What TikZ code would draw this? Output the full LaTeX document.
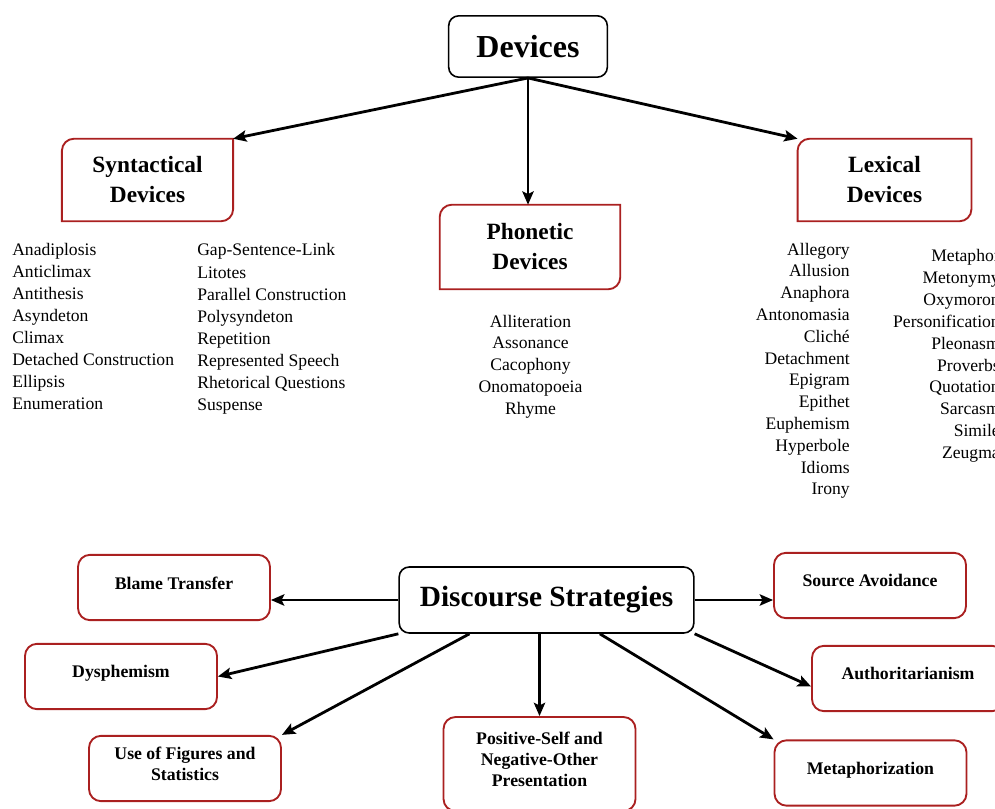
\documentclass[tikz,border=0pt]{standalone}
\usepackage{fontspec}
\setmainfont{Liberation Serif}
\usetikzlibrary{arrows.meta, positioning, calc}

\definecolor{devred}{RGB}{170,32,32}

% frame with two rounded corners (top left, bottom right)
\newcommand{\leafframe}[1]{%
  \draw[leafline] (#1.north east) -- ([xshift=9pt]#1.north west)
    arc[start angle=90, end angle=180, radius=9pt] -- (#1.south west)
    -- ([xshift=-9pt]#1.south east)
    arc[start angle=270, end angle=360, radius=9pt] -- cycle;}

\begin{document}
\begin{tikzpicture}[
    x=0.75pt, y=-0.75pt,
    root/.style={
        rectangle,
        draw=black,
        line width=1.2pt,
        rounded corners=7.5pt,
        minimum width=119pt,
        minimum height=46pt,
        inner sep=0pt,
        font=\fontsize{24}{28}\selectfont\bfseries
    },
    devbox/.style={
        rectangle,
        inner sep=0pt,
        align=center,
        font=\fontsize{17.5}{22.5}\selectfont\bfseries
    },
    leafline/.style={
        draw=devred,
        line width=1.4pt
    },
    item/.style={
        inner sep=0pt,
        font=\fontsize{13.2}{16}\selectfont
    },
    hub/.style={
        rectangle,
        draw=black,
        line width=1.2pt,
        rounded corners=7.5pt,
        minimum width=221pt,
        minimum height=49.5pt,
        inner sep=0pt,
        font=\fontsize{22}{26}\selectfont\bfseries
    },
    stratbox/.style={
        rectangle,
        draw=devred,
        line width=1.4pt,
        rounded corners=9pt,
        minimum width=144pt,
        minimum height=49pt,
        inner sep=0pt,
        text depth=7pt,
        align=center,
        font=\fontsize{13.3}{16}\selectfont\bfseries
    },
    arrow/.style={
        line width=2.1pt,
        -{Stealth[length=10pt, width=8.5pt, inset=2pt]}
    }
]
    \path[use as bounding box] (0,0) rectangle (995,809);
    \clip (0,0) rectangle (995,809);

    % Devices
    \node [root] (devices) at (528,46.5) {Devices};
    \node [devbox, minimum width=128pt, minimum height=61.5pt] (syntactical) at (147.5,180) {Syntactical\\Devices};
    \node [devbox, minimum width=135pt, minimum height=63pt] (phonetic) at (530,247) {Phonetic\\Devices};
    \node [devbox, minimum width=130pt, minimum height=61.5pt] (lexical) at (884.5,180) {Lexical\\Devices};
    \leafframe{syntactical}
    \leafframe{phonetic}
    \leafframe{lexical}

    % Lists
    \foreach \w [count=\i] in {Anadiplosis, Anticlimax, Antithesis, Asyndeton, Climax, Detached Construction, Ellipsis, Enumeration}
        \node [item, anchor=base west] (synA\i) at (12,{255+22.1*(\i-1)}) {\w};
    \foreach \w [count=\i] in {Gap-Sentence-Link, Litotes, Parallel Construction, Polysyndeton, Repetition, Represented Speech, Rhetorical Questions, Suspense}
        \node [item, anchor=base west] (synB\i) at (197,{256+22.1*(\i-1)}) {\w};
    \foreach \w [count=\i] in {Alliteration, Assonance, Cacophony, Onomatopoeia, Rhyme}
        \node [item, anchor=base] (pho\i) at (530.5,{327+21.75*(\i-1)}) {\w};
    \foreach \w [count=\i] in {Allegory, Allusion, Anaphora, Antonomasia, Cliché, Detachment, Epigram, Epithet, Euphemism, Hyperbole, Idioms, Irony}
        \node [item, anchor=base east] (lexA\i) at (850,{255+21.8*(\i-1)}) {\w};
    \foreach \w [count=\i] in {Metaphor, Metonymy, Oxymoron, Personification, Pleonasm, Proverbs, Quotation, Sarcasm, Simile, Zeugma}
        \node [item, anchor=base east] (lexB\i) at (1000,{261.5+21.9*(\i-1)}) {\w};

    % Discourse strategies
    \node [hub] (discourse) at (546.5,600) {Discourse Strategies};
    \node [stratbox] (blame) at (174,587.5) {Blame Transfer};
    \node [stratbox] (dysphemism) at (121,676.5) {Dysphemism};
    \node [stratbox] (figures) at (185,768.5) {Use of Figures and\\Statistics};
    \node [stratbox, minimum height=70.5pt] (positive) at (539.5,764) {Positive-Self and\\Negative-Other\\Presentation};
    \node [stratbox] (source) at (870,585.5) {Source Avoidance};
    \node [stratbox] (authority) at (908,678.5) {Authoritarianism};
    \node [stratbox] (metaphorization) at (870.5,773) {Metaphorization};

    % Arrows
    \draw [arrow] (devices.south) -- (syntactical.north east);
    \draw [arrow] (devices.south) -- (devices.south |- phonetic.north);
    \draw [arrow] (devices.south) -- (lexical.north west);

    \draw [arrow] (discourse.west) -- (discourse.west -| blame.east);
    \draw [arrow] (discourse.south west) -- (dysphemism.east);
    \draw [arrow] ($(discourse.south west)!0.24!(discourse.south east)$) -- (figures.north east);
    \draw [arrow] (discourse.south -| positive.north) -- (positive.north);
    \draw [arrow] (discourse.east) -- (discourse.east -| source.west);
    \draw [arrow] (discourse.south east) -- ([yshift=-6pt]authority.west);
    \draw [arrow] ($(discourse.south west)!0.68!(discourse.south east)$) -- (metaphorization.north west);
\end{tikzpicture}
\end{document}
